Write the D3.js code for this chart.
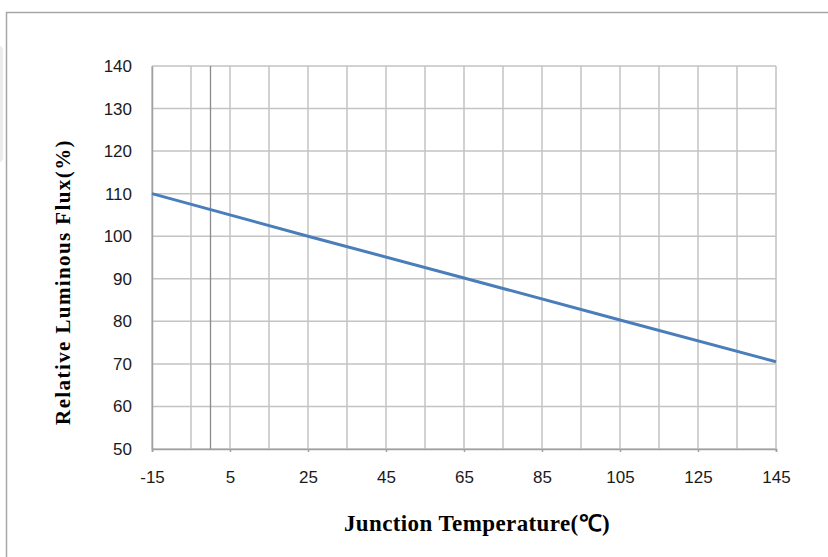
<!DOCTYPE html>
<html>
<head>
<meta charset="utf-8">
<script src="https://cdn.jsdelivr.net/npm/d3@7/dist/d3.min.js"></script>
<style>
  html, body { margin: 0; padding: 0; background: #fff; }
  svg { display: block; }
</style>
</head>
<body>
<svg id="chart" width="828" height="557"></svg>
<script>
// Junction temperature (°C) vs. relative luminous flux (%)
const temps = [-15, 25, 65, 105, 145];
const flux = [110, 100, 90.2, 80.3, 70.5];

const xTickLabels = [-15, 5, 25, 45, 65, 85, 105, 125, 145];
const xGridValues = [-15, -5, 5, 15, 25, 35, 45, 55, 65, 75, 85, 95, 105, 115, 125, 135, 145];
const yTickLabels = [50, 60, 70, 80, 90, 100, 110, 120, 130, 140];

const xTitle = "Junction Temperature(\u2103)";
const yTitle = "Relative Luminous Flux(%)";

const svg = d3.select("#chart");
const W = 828, H = 557;
const m = { left: 152, right: 776, top: 66, bottom: 449 };
const labelFont = "'Liberation Sans', Tahoma, Arial, sans-serif";
const titleFont = "'Liberation Serif', 'Times New Roman', serif";

// faint shading at the left page edge
svg.append("rect")
  .attr("x", -6).attr("y", 46).attr("width", 9).attr("height", 116)
  .attr("rx", 4)
  .attr("fill", "#ececec");

// outer frame
svg.append("rect")
  .attr("x", 6.5).attr("y", 12.5)
  .attr("width", W + 10).attr("height", H + 10)
  .attr("fill", "#fff")
  .attr("stroke", "#a6a6a6").attr("stroke-width", 1.5);

const x = d3.scaleLinear().domain([-15, 145]).range([m.left, m.right]);
const y = d3.scaleLinear().domain([50, 140]).range([m.bottom, m.top]);

const grid = svg.append("g");

// vertical gridlines
grid.selectAll("line.vg").data(xGridValues).join("line")
  .attr("class", "vg")
  .attr("x1", d => x(d)).attr("x2", d => x(d))
  .attr("y1", m.top).attr("y2", m.bottom)
  .attr("stroke", "#c3c3c3").attr("stroke-width", 1.5);

// horizontal gridlines
grid.selectAll("line.hg").data(yTickLabels).join("line")
  .attr("class", "hg")
  .attr("x1", m.left).attr("x2", m.right)
  .attr("y1", d => y(d)).attr("y2", d => y(d))
  .attr("stroke", "#c3c3c3").attr("stroke-width", 1.5);

// value axis crossing at 0 °C
grid.append("line")
  .attr("x1", x(0)).attr("x2", x(0))
  .attr("y1", m.top).attr("y2", m.bottom)
  .attr("stroke", "#8a8a8a").attr("stroke-width", 1.3);

// bottom axis
const xAxis = d3.axisBottom(x)
  .tickValues(xTickLabels)
  .tickSize(3)
  .tickFormat(d => String(d));
const gx = svg.append("g")
  .attr("transform", `translate(0,${m.bottom})`)
  .call(xAxis);
gx.select(".domain").attr("stroke", "#a0a0a0").attr("stroke-width", 1.5);
gx.selectAll(".tick line").attr("stroke", "#a0a0a0").attr("stroke-width", 1.5);
gx.selectAll(".tick text")
  .attr("dy", 0).attr("y", 34)
  .style("font-family", labelFont)
  .style("font-size", "17px")
  .attr("fill", "#1a1a1a");

// left axis labels
const yAxis = d3.axisLeft(y)
  .tickValues(yTickLabels)
  .tickSize(0)
  .tickPadding(20)
  .tickFormat(d => String(d));
const gy = svg.append("g")
  .attr("transform", `translate(${m.left},0)`)
  .call(yAxis);
gy.select(".domain").attr("stroke", "#a0a0a0").attr("stroke-width", 1.5);
gy.selectAll(".tick text")
  .style("font-family", labelFont)
  .style("font-size", "17px")
  .attr("fill", "#1a1a1a");

// data line
const line = d3.line()
  .x((d, i) => x(temps[i]))
  .y(d => y(d));
svg.append("path")
  .datum(flux)
  .attr("d", line)
  .attr("fill", "none")
  .attr("stroke", "#4a7ebb")
  .attr("stroke-width", 3);

// axis titles
svg.append("text")
  .attr("x", 477).attr("y", 531)
  .attr("text-anchor", "middle")
  .style("font-family", titleFont)
  .style("font-weight", "bold")
  .style("font-size", "23px")
  .style("letter-spacing", "0.4px")
  .attr("fill", "#000")
  .text(xTitle);

svg.append("text")
  .attr("transform", "translate(70,282) rotate(-90)")
  .attr("text-anchor", "middle")
  .style("font-family", titleFont)
  .style("font-weight", "bold")
  .style("font-size", "21px")
  .style("letter-spacing", "1.4px")
  .attr("fill", "#000")
  .text(yTitle);
</script>
</body>
</html>
